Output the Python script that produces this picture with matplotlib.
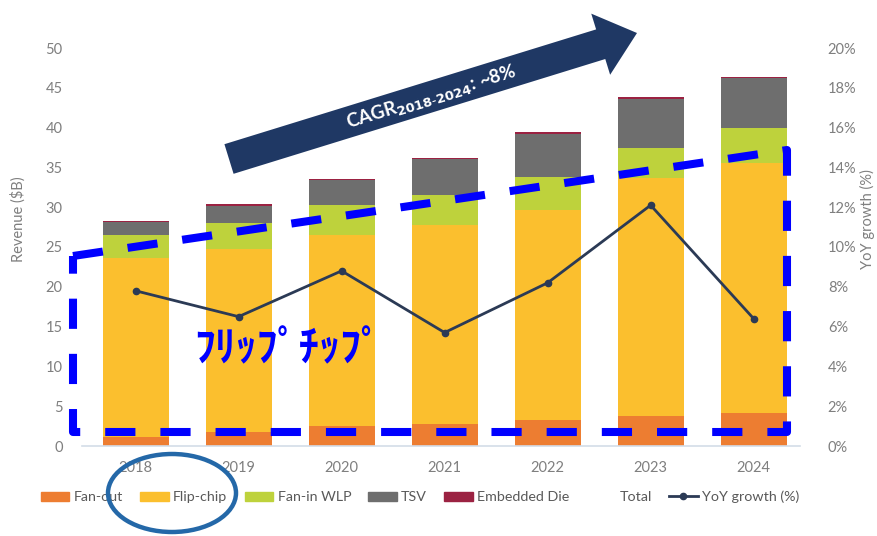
import numpy as np
import matplotlib
matplotlib.use("Agg")
import matplotlib.pyplot as plt
from matplotlib.patches import Patch, FancyArrow, Ellipse
from matplotlib.lines import Line2D
from matplotlib.ticker import FuncFormatter

plt.rcParams['font.family'] = ['Lato', 'DejaVu Sans']

# revenue by packaging platform ($B)
years = ['2018', '2019', '2020', '2021', '2022', '2023', '2024']
fan_out = [1.1, 1.7, 2.5, 2.8, 3.3, 3.8, 4.1]
flip_chip = [22.5, 23.1, 24.0, 25.0, 26.3, 29.9, 31.5]
fan_in_wlp = [2.9, 3.2, 3.8, 3.7, 4.2, 3.7, 4.4]
tsv = [1.6, 2.2, 3.1, 4.5, 5.4, 6.2, 6.2]
embedded_die = [0.2, 0.2, 0.2, 0.2, 0.2, 0.2, 0.2]
yoy_growth = [7.8, 6.5, 8.8, 5.7, 8.2, 12.1, 6.4]

series = [
    ('Fan-out', fan_out, '#ED7D31'),
    ('Flip-chip', flip_chip, '#FBBF2E'),
    ('Fan-in WLP', fan_in_wlp, '#BED23C'),
    ('TSV', tsv, '#6E6E6E'),
    ('Embedded Die', embedded_die, '#9B2242'),
]

grey = '#7f7f7f'
navy_line = '#2B3A55'

fig = plt.figure(figsize=(8.78, 5.36), dpi=100)
ax = fig.add_axes([82 / 878, 90 / 536, 718 / 878, 398 / 536])

x = np.arange(len(years))
bottom = np.zeros(len(years))
for name, vals, col in series:
    ax.bar(x, vals, width=0.64, bottom=bottom, color=col, label=name, zorder=2)
    bottom += np.array(vals)

ax.set_xlim(-0.52, 6.45)
ax.set_ylim(0, 50)
ax.set_yticks(np.arange(0, 51, 5))
ax.set_xticks(x)
ax.set_xticklabels(years)
ax.tick_params(axis='both', length=0, colors=grey, labelsize=10.5)
ax.tick_params(axis='y', pad=14)
ax.tick_params(axis='x', pad=11)
for s in ['top', 'left', 'right']:
    ax.spines[s].set_visible(False)
ax.spines['bottom'].set_color('#d3dde8')
ax.spines['bottom'].set_linewidth(1.2)
ax.set_ylabel('Revenue ($B)', color=grey, fontsize=10.5)
ax.yaxis.set_label_coords(-0.078, 0.57)

# growth rate on the right axis
ax2 = ax.twinx()
ax2.plot(x, yoy_growth, color=navy_line, lw=2, marker='o', ms=4.5, zorder=3)
ax2.set_ylim(0, 20)
ax2.set_yticks(np.arange(0, 21, 2))
ax2.yaxis.set_major_formatter(FuncFormatter(lambda v, p: f'{v:.0f}%'))
ax2.tick_params(axis='y', length=0, colors=grey, labelsize=10.5, pad=20)
for s in ax2.spines.values():
    s.set_visible(False)
ax2.set_ylabel('YoY growth (%)', color=grey, fontsize=10.5)
ax2.yaxis.set_label_coords(1.083, 0.57)

handles = [Patch(color=c, label=n) for n, _, c in series]
handles.append(Line2D([], [], color='none', label='Total'))
handles.append(Line2D([], [], color=navy_line, lw=2, marker='o', ms=4.5, label='YoY growth (%)'))
fig.legend(handles=handles, loc='center', bbox_to_anchor=(420 / 878, 1 - 497 / 536),
           ncol=7, frameon=False, fontsize=10.3, labelcolor='#595959',
           handlelength=2.0, handleheight=0.6, handletextpad=0.3, columnspacing=1.2)

# overlay in pixel units for the hand-drawn marks
ov = fig.add_axes([0, 0, 1, 1], zorder=10)
ov.set_xlim(0, 878)
ov.set_ylim(536, 0)
ov.axis('off')
ov.patch.set_alpha(0)

tail = np.array([229, 159])
tip = np.array([637, 33])
d = tip - tail
ov.add_patch(FancyArrow(tail[0], tail[1], d[0], d[1], width=31, head_width=64,
                        head_length=38, length_includes_head=True,
                        color='#1F3864', lw=0))
ang = np.degrees(np.arctan2(-d[1], d[0]))
ov.text(432, 98, r'CAGR$_{\mathbf{2018\text{-}2024}}$: ~8%', color='white',
        fontsize=13.5, fontweight='bold', rotation=ang, rotation_mode='anchor',
        ha='center', va='center', family=['Lato', 'DejaVu Sans'])

box_x = [73, 787, 787, 73, 73]
box_y = [256, 150, 432, 432, 256]
ov.plot(box_x, box_y, color='#0000FF', lw=5.8, dashes=(3.75, 3.1),
        solid_capstyle='butt')

ov.text(288, 349, 'ﾌﾘｯﾌﾟﾁｯﾌﾟ', color='#0000FF', fontsize=30,
        fontweight='bold', ha='center', va='center',
        family=['Noto Sans CJK JP', 'DejaVu Sans'])

ov.add_patch(Ellipse((172, 493), 128, 78, fill=False, edgecolor='#2468A8', lw=3.2))

fig.savefig('out.png', dpi=100)
